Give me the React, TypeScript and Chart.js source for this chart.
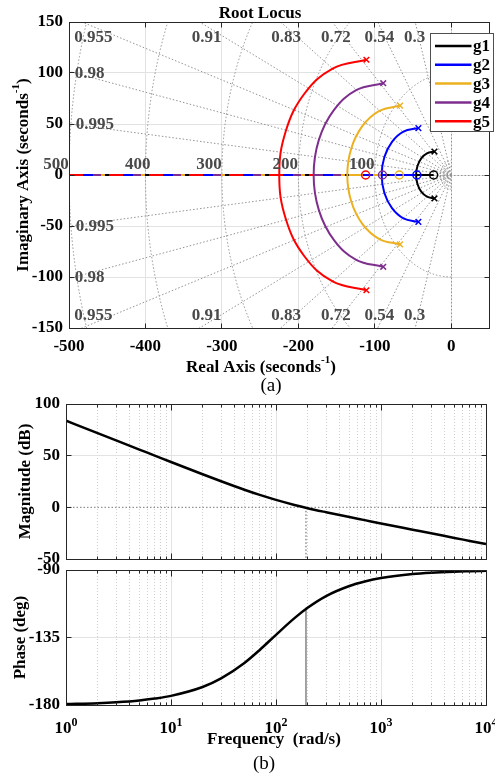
import React, { useEffect, useRef } from "react";
import { Chart, registerables } from "chart.js";

Chart.register(...registerables);

const FONT = '"Liberation Serif", "Times New Roman", Times, serif';

// ---------------- (a) Root locus data ----------------
const seriesNames = ["g1", "g2", "g3", "g4", "g5"];
const seriesColors = ["#000000", "#0000ff", "#edb120", "#7e2f8e", "#ff0000"];
const poleRe = [-22, -43, -67, -89, -111];
const poleIm = [23, 46, 68, 90, 113];
const zeroRe = [-23, -45, -68, -90, -112];
const breakInRe = [-46, -91, -136, -180, -225];
const realAxisEnd = -500;

const arcRe_g1 = [-22, -31.8, -39.3, -44.2, -46, -44.2, -39.3, -31.8, -22];
const arcIm_g1 = [23, 21.2, 16.3, 8.8, 0, -8.8, -16.3, -21.2, -23];
const arcRe_g2 = [-43, -62.6, -77.5, -87.5, -91, -87.5, -77.5, -62.6, -43];
const arcIm_g2 = [46, 42.5, 32.5, 17.6, 0, -17.6, -32.5, -42.5, -46];
const arcRe_g3 = [-67, -94, -116.1, -130.8, -136, -130.8, -116.1, -94, -67];
const arcIm_g3 = [68, 62.8, 48.1, 26, 0, -26, -48.1, -62.8, -68];
const arcRe_g4 = [-89, -124.4, -153.6, -173.2, -180, -173.2, -153.6, -124.4, -89];
const arcIm_g4 = [90, 83.2, 63.6, 34.4, 0, -34.4, -63.6, -83.2, -90];
const arcRe_g5 = [-111, -155.2, -191.9, -216.4, -225, -216.4, -191.9, -155.2, -111];
const arcIm_g5 = [113, 104.4, 79.9, 43.2, 0, -43.2, -79.9, -104.4, -113];
const arcsRe = [arcRe_g1, arcRe_g2, arcRe_g3, arcRe_g4, arcRe_g5];
const arcsIm = [arcIm_g1, arcIm_g2, arcIm_g3, arcIm_g4, arcIm_g5];

const rlXTicks = [-500, -400, -300, -200, -100, 0];
const rlYTicks = [-150, -100, -50, 0, 50, 100, 150];
const dampingValues = [0.3, 0.54, 0.72, 0.83, 0.91, 0.955, 0.98, 0.995];
const dampLabelText = ["0.3", "0.54", "0.72", "0.83", "0.91", "0.955", "0.98", "0.995"];
const dampLabelRe = [-48, -94, -151, -216, -320, -468, -473, -466];
const dampLabelImUp = [135, 135, 135, 135, 135, 135, 99, 49];
const dampLabelImDown = [-138, -138, -138, -138, -138, -138, -101, -51];
const wnValues = [100, 200, 300, 400, 500];
const wnSmall = [5, 8, 11, 14];
const wnLabelText = ["100", "200", "300", "400", "500"];
const wnLabelRe = [-117, -217, -317, -410, -517];
const wnLabelIm = 10;

// dash style of the overlapping real-axis branches (visual only)
const branchDash = [[4, 36], [10, 30], [4, 36], [8, 32], [14, 26]];
const branchDashOffset = [4, 26, 8, 16, 0];

// ---------------- (b) Bode data ----------------
const freqs = [1, 2, 3, 5, 7, 10, 20, 30, 50, 70, 100, 150, 200, 300, 500, 700, 1000, 2000, 3000, 5000, 7000, 10000];
const magDb = [83.9, 71.8, 64.8, 55.9, 50.1, 43.9, 32.0, 25.2, 17.0, 12.0, 7.2, 2.3, -0.8, -4.7, -9.4, -12.4, -15.6, -21.6, -25.1, -29.6, -32.5, -35.6];
const phaseDeg = [-179.4, -178.8, -178.2, -177.0, -175.7, -173.9, -168.0, -162.3, -152.0, -143.3, -133.2, -122.1, -115.2, -107.4, -100.7, -97.7, -95.4, -92.7, -91.8, -91.1, -90.8, -90.5];
const crossFreq = 193;
const crossPhase = -115;
const magTicks = [-50, 0, 50, 100];
const phaseTicks = [-180, -135, -90];
const freqDecades = [1, 10, 100, 1000, 10000];
const decadeExp = ["0", "1", "2", "3", "4"];

// ---------------- helpers ----------------
const font = (size: number, weight = "bold") => `${weight} ${size}px ${FONT}`;
const crisp = (p: number) => Math.round(p - 0.5) + 0.5;
function line(ctx: any, x1: number, y1: number, x2: number, y2: number) {
  ctx.beginPath();
  ctx.moveTo(x1, y1);
  ctx.lineTo(x2, y2);
  ctx.stroke();
}
function drawParts(ctx: any, parts: any[], x: number, y: number) {
  let total = 0;
  const widths = parts.map((p) => {
    ctx.font = font(p[1], p[3] || "bold");
    const w = ctx.measureText(p[0]).width;
    total += w;
    return w;
  });
  let cx = x - total / 2;
  ctx.textAlign = "left";
  ctx.textBaseline = "alphabetic";
  parts.forEach((p, i) => {
    ctx.font = font(p[1], p[3] || "bold");
    ctx.fillText(p[0], cx, y + p[2]);
    cx += widths[i];
  });
}
function drawRotated(ctx: any, text: string, bx: number, cy: number, size = 17) {
  ctx.save();
  ctx.translate(bx, cy);
  ctx.rotate(-Math.PI / 2);
  ctx.font = font(size);
  ctx.textAlign = "center";
  ctx.textBaseline = "alphabetic";
  ctx.fillStyle = "#000";
  ctx.fillText(text, 0, 0);
  ctx.restore();
}
function drawRotatedParts(ctx: any, parts: any[], bx: number, cy: number) {
  ctx.save();
  ctx.translate(bx, cy);
  ctx.rotate(-Math.PI / 2);
  ctx.fillStyle = "#000";
  drawParts(ctx, parts, 0, 0);
  ctx.restore();
}
const zeroPad = (s: any) => {
  s.paddingTop = 0;
  s.paddingBottom = 0;
  s.paddingLeft = 0;
  s.paddingRight = 0;
};
const tickFont = { family: FONT, size: 17, weight: "bold" as const };

// ---------------- Root locus decorations ----------------
const rlDecor = {
  id: "rlDecor",
  beforeDatasetsDraw(chart: any) {
    const { ctx, chartArea: a, scales } = chart;
    const x = scales.x, y = scales.y;
    ctx.save();
    ctx.beginPath();
    ctx.rect(a.left, a.top, a.right - a.left, a.bottom - a.top);
    ctx.clip();
    ctx.lineWidth = 1;
    ctx.setLineDash([]);
    ctx.strokeStyle = "#e2e2e2";
    rlXTicks.forEach((v) => { const p = crisp(x.getPixelForValue(v)); line(ctx, p, a.top, p, a.bottom); });
    rlYTicks.forEach((v) => { const p = crisp(y.getPixelForValue(v)); line(ctx, a.left, p, a.right, p); });
    // sgrid
    ctx.strokeStyle = "#939393";
    ctx.setLineDash([1.5, 2]);
    const ox = x.getPixelForValue(0), oy = y.getPixelForValue(0);
    const L = 2000;
    dampingValues.forEach((z) => {
      const s = Math.sqrt(1 - z * z);
      const ex = x.getPixelForValue(-L * z);
      line(ctx, ox, oy, ex, y.getPixelForValue(L * s));
      line(ctx, ox, oy, ex, y.getPixelForValue(-L * s));
    });
    line(ctx, a.left, crisp(oy), a.right, crisp(oy));
    line(ctx, crisp(ox), a.top, crisp(ox), a.bottom);
    [...wnValues, ...wnSmall].forEach((r) => {
      const rx = ox - x.getPixelForValue(-r);
      const ry = oy - y.getPixelForValue(r);
      ctx.beginPath();
      ctx.ellipse(ox, oy, rx, ry, 0, Math.PI / 2, (Math.PI * 3) / 2);
      ctx.stroke();
    });
    ctx.restore();
  },
  afterDatasetsDraw(chart: any) {
    const { ctx, chartArea: a, scales } = chart;
    const x = scales.x, y = scales.y;
    ctx.save();
    // sgrid labels
    ctx.font = font(17);
    ctx.fillStyle = "#4a4a4a";
    ctx.textAlign = "center";
    ctx.textBaseline = "middle";
    dampLabelText.forEach((t, i) => {
      ctx.fillText(t, x.getPixelForValue(dampLabelRe[i]), y.getPixelForValue(dampLabelImUp[i]));
      ctx.fillText(t, x.getPixelForValue(dampLabelRe[i]), y.getPixelForValue(dampLabelImDown[i]));
    });
    wnLabelText.forEach((t, i) => {
      ctx.fillText(t, x.getPixelForValue(wnLabelRe[i]), y.getPixelForValue(wnLabelIm));
    });
    // frame + inward ticks
    ctx.strokeStyle = "#262626";
    ctx.lineWidth = 1;
    ctx.setLineDash([]);
    const l = crisp(a.left), r = crisp(a.right), t = crisp(a.top), b = crisp(a.bottom);
    ctx.strokeRect(l, t, r - l, b - t);
    rlXTicks.forEach((v) => {
      const p = crisp(x.getPixelForValue(v));
      line(ctx, p, b, p, b - 5);
      line(ctx, p, t, p, t + 5);
    });
    rlYTicks.forEach((v) => {
      const p = crisp(y.getPixelForValue(v));
      line(ctx, l, p, l + 5, p);
      line(ctx, r, p, r - 5, p);
    });
    // legend
    const lx0 = 430, ly0 = 33, lw = 63, lh = 98;
    ctx.fillStyle = "#ffffff";
    ctx.fillRect(lx0, ly0, lw, lh);
    ctx.strokeStyle = "#4f4f4f";
    ctx.strokeRect(lx0 + 0.5, ly0 + 0.5, lw, lh);
    seriesNames.forEach((n, i) => {
      const ly = 46 + i * 18.8;
      ctx.strokeStyle = seriesColors[i];
      ctx.lineWidth = 2.5;
      line(ctx, 435, ly, 471.5, ly);
      ctx.fillStyle = "#000";
      ctx.font = font(17);
      ctx.textAlign = "left";
      ctx.textBaseline = "middle";
      ctx.fillText(n, 473, ly + 1);
    });
    // titles
    ctx.fillStyle = "#000";
    drawParts(ctx, [["Root Locus", 17, 0]], 260, 18);
    drawParts(ctx, [["Real Axis (seconds", 17, 0], ["-1", 11, -9], [")", 17, 0]], 261, 372);
    drawRotatedParts(ctx, [["Imaginary Axis (seconds", 17, 0], ["-1", 11, -9], [")", 17, 0]], 28, (a.top + a.bottom) / 2);
    drawParts(ctx, [["(a)", 19, 0, "normal"]], 271, 391);
    ctx.restore();
  },
};

// ---------------- Bode decorations ----------------
function bodeDecor(key: string, yTicks: number[], skipGrid: number[], extra: (chart: any) => void) {
  return {
    id: "bode_" + key,
    beforeDatasetsDraw(chart: any) {
      const { ctx, chartArea: a, scales } = chart;
      const x = scales.x, y = scales.y;
      ctx.save();
      ctx.beginPath();
      ctx.rect(a.left, a.top, a.right - a.left, a.bottom - a.top);
      ctx.clip();
      ctx.lineWidth = 1;
      ctx.strokeStyle = "#cdcdcd";
      ctx.setLineDash([1, 2]);
      freqDecades.slice(0, -1).forEach((d) => {
        for (let m = 2; m < 10; m++) {
          const p = crisp(x.getPixelForValue(d * m));
          line(ctx, p, a.top, p, a.bottom);
        }
      });
      ctx.setLineDash([]);
      ctx.strokeStyle = "#e3e3e3";
      freqDecades.forEach((d) => { const p = crisp(x.getPixelForValue(d)); line(ctx, p, a.top, p, a.bottom); });
      yTicks.forEach((v) => {
        if (skipGrid.includes(v)) return;
        const p = crisp(y.getPixelForValue(v));
        line(ctx, a.left, p, a.right, p);
      });
      ctx.restore();
    },
    afterDatasetsDraw(chart: any) {
      const { ctx, chartArea: a, scales } = chart;
      const x = scales.x, y = scales.y;
      ctx.save();
      ctx.strokeStyle = "#262626";
      ctx.lineWidth = 1;
      ctx.setLineDash([]);
      const l = crisp(a.left), r = crisp(a.right), t = crisp(a.top), b = crisp(a.bottom);
      ctx.strokeRect(l, t, r - l, b - t);
      freqDecades.slice(0, -1).forEach((d) => {
        for (let m = 2; m < 10; m++) {
          const p = crisp(x.getPixelForValue(d * m));
          line(ctx, p, b, p, b - 3);
          line(ctx, p, t, p, t + 3);
        }
      });
      freqDecades.forEach((d) => {
        const p = crisp(x.getPixelForValue(d));
        line(ctx, p, b, p, b - 6);
        line(ctx, p, t, p, t + 6);
      });
      yTicks.forEach((v) => {
        const p = crisp(y.getPixelForValue(v));
        line(ctx, l, p, l + 5, p);
        line(ctx, r, p, r - 5, p);
      });
      ctx.fillStyle = "#000";
      extra(chart);
      ctx.restore();
    },
  };
}

function makeBode(canvas: any, datasets: any[], yMin: number, yMax: number, yTicks: number[], padTop: number, padBottom: number, decor: any) {
  return new Chart(canvas, {
    type: "scatter",
    data: { datasets },
    options: {
      responsive: false,
      animation: false,
      devicePixelRatio: 1,
      events: [],
      layout: { padding: { top: padTop, bottom: padBottom, left: 0, right: 9 } },
      plugins: { legend: { display: false }, tooltip: { enabled: false }, title: { display: false } },
      scales: {
        x: { type: "logarithmic", min: 1, max: 10000, display: false, afterFit: zeroPad },
        y: {
          type: "linear",
          min: yMin,
          max: yMax,
          afterBuildTicks: (s: any) => { s.ticks = yTicks.map((v) => ({ value: v })); },
          afterFit: (s: any) => { s.width = 66; zeroPad(s); },
          grid: { display: false, drawTicks: false },
          border: { display: false },
          ticks: { font: tickFont, color: "#000", padding: 6, autoSkip: false },
        },
      },
    },
    plugins: [decor],
  } as any);
}

export default function App() {
  const rlRef = useRef<HTMLCanvasElement>(null);
  const magRef = useRef<HTMLCanvasElement>(null);
  const phRef = useRef<HTMLCanvasElement>(null);

  useEffect(() => {
    // ----- root locus -----
    const rlSets: any[] = [];
    seriesNames.forEach((n, i) => {
      rlSets.push({
        label: n, order: 0, data: [{ x: poleRe[i], y: poleIm[i] }, { x: poleRe[i], y: -poleIm[i] }],
        showLine: false, pointStyle: "crossRot", pointRadius: 4, borderColor: seriesColors[i],
        backgroundColor: seriesColors[i], borderWidth: 1.5,
      });
      rlSets.push({
        label: n, order: 0, data: [{ x: zeroRe[i], y: 0 }],
        showLine: false, pointStyle: "circle", pointRadius: 4, borderColor: seriesColors[i],
        backgroundColor: "rgba(0,0,0,0)", borderWidth: 1.5,
      });
      rlSets.push({
        label: n, order: 1, data: arcsRe[i].map((v, k) => ({ x: v, y: arcsIm[i][k] })),
        showLine: true, tension: 0.4, pointRadius: 0, borderColor: seriesColors[i], borderWidth: 2,
      });
      rlSets.push({
        label: n, order: 2, data: [{ x: realAxisEnd, y: 0 }, { x: breakInRe[i], y: 0 }],
        showLine: true, pointRadius: 0, borderColor: seriesColors[i], borderWidth: 2,
        borderDash: branchDash[i], borderDashOffset: branchDashOffset[i],
      });
      rlSets.push({
        label: n, order: 3, data: [{ x: breakInRe[i], y: 0 }, { x: zeroRe[i], y: 0 }],
        showLine: true, pointRadius: 0, borderColor: seriesColors[i], borderWidth: 2,
      });
    });
    const rl = new Chart(rlRef.current as any, {
      type: "scatter",
      data: { datasets: rlSets },
      options: {
        responsive: false,
        animation: false,
        devicePixelRatio: 1,
        events: [],
        layout: { padding: { top: 22, bottom: 0, left: 0, right: 1 } },
        plugins: { legend: { display: false }, tooltip: { enabled: false }, title: { display: false } },
        scales: {
          x: {
            type: "linear", min: -500, max: 50,
            afterBuildTicks: (s: any) => { s.ticks = rlXTicks.map((v) => ({ value: v })); },
            afterFit: (s: any) => { s.height = 70; zeroPad(s); },
            grid: { display: false, drawTicks: false },
            border: { display: false },
            ticks: { font: tickFont, color: "#000", padding: 8, autoSkip: false, maxRotation: 0 },
          },
          y: {
            type: "linear", min: -150, max: 150,
            afterBuildTicks: (s: any) => { s.ticks = rlYTicks.map((v) => ({ value: v })); },
            afterFit: (s: any) => { s.width = 69; zeroPad(s); },
            grid: { display: false, drawTicks: false },
            border: { display: false },
            ticks: { font: tickFont, color: "#000", padding: 6, autoSkip: false },
          },
        },
      },
      plugins: [rlDecor],
    } as any);

    // ----- magnitude -----
    const magSets = [
      {
        label: "Magnitude", order: 0, data: freqs.map((f, i) => ({ x: f, y: magDb[i] })),
        showLine: true, pointRadius: 0, borderColor: "#000", borderWidth: 2.5, cubicInterpolationMode: "monotone",
      },
      {
        label: "0 dB", order: 1, data: [{ x: 1, y: 0 }, { x: 10000, y: 0 }],
        showLine: true, pointRadius: 0, borderColor: "#7a7a7a", borderWidth: 1, borderDash: [1.5, 2],
      },
      {
        label: "crossover", order: 1, data: [{ x: crossFreq, y: 0 }, { x: crossFreq, y: -50 }],
        showLine: true, pointRadius: 0, borderColor: "#555", borderWidth: 1, borderDash: [1.5, 2],
      },
    ];
    const mag = makeBode(magRef.current, magSets, -50, 100, magTicks, 14, 11,
      bodeDecor("mag", magTicks, [0], (chart: any) => {
        const a = chart.chartArea;
        drawRotated(chart.ctx, "Magnitude (dB)", 30, (a.top + a.bottom) / 2);
      }));

    // ----- phase -----
    const phSets = [
      {
        label: "Phase", order: 0, data: freqs.map((f, i) => ({ x: f, y: phaseDeg[i] })),
        showLine: true, pointRadius: 0, borderColor: "#000", borderWidth: 2.5, cubicInterpolationMode: "monotone",
      },
      {
        label: "crossover", order: 1, data: [{ x: crossFreq, y: crossPhase }, { x: crossFreq, y: -180 }],
        showLine: true, pointRadius: 0, borderColor: "#666", borderWidth: 1.2,
      },
    ];
    const ph = makeBode(phRef.current, phSets, -180, -90, phaseTicks, 10, 70,
      bodeDecor("ph", phaseTicks, [], (chart: any) => {
        const { ctx, chartArea: a, scales } = chart;
        drawRotated(ctx, "Phase (deg)", 25, (a.top + a.bottom) / 2);
        ctx.fillStyle = "#000";
        freqDecades.forEach((d, i) => {
          drawParts(ctx, [["10", 17, 0], [decadeExp[i], 12, -7]], scales.x.getPixelForValue(d), 173);
        });
        drawParts(ctx, [["Frequency  (rad/s)", 17, 0]], 274, 184);
        drawParts(ctx, [["(b)", 19, 0, "normal"]], 264, 209);
      }));

    return () => {
      rl.destroy();
      mag.destroy();
      ph.destroy();
    };
  }, []);

  return (
    <div style={{ position: "absolute", left: 0, top: 0, width: 495, height: 775, background: "#fff", overflow: "hidden" }}>
      <canvas ref={rlRef} width={495} height={398} style={{ position: "absolute", left: 0, top: 0 }} />
      <canvas ref={magRef} width={495} height={180} style={{ position: "absolute", left: 0, top: 390 }} />
      <canvas ref={phRef} width={495} height={215} style={{ position: "absolute", left: 0, top: 560 }} />
    </div>
  );
}
